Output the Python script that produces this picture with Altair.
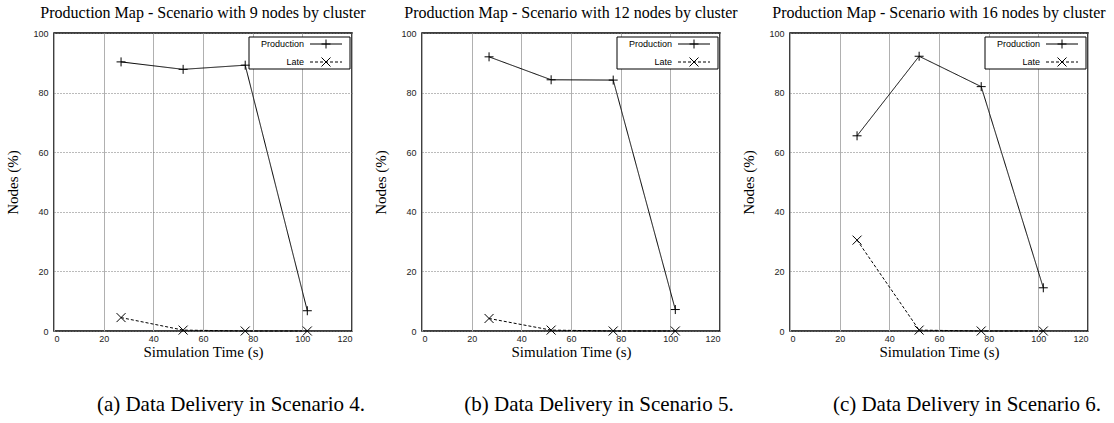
import altair as alt
import pandas as pd

# ---------------- data ----------------
times = [27, 52, 77, 102]
series_names = ["Production", "Late"]
titles = [
    "Production Map - Scenario with 9 nodes by cluster",
    "Production Map - Scenario with 12 nodes by cluster",
    "Production Map - Scenario with 16 nodes by cluster",
]
captions = [
    "(a) Data Delivery in Scenario 4.",
    "(b) Data Delivery in Scenario 5.",
    "(c) Data Delivery in Scenario 6.",
]
production = [
    [90.3, 87.8, 89.2, 6.8],
    [92.0, 84.3, 84.2, 7.2],
    [65.5, 92.2, 82.0, 14.5],
]
late = [
    [4.5, 0.3, 0.0, 0.0],
    [4.2, 0.3, 0.0, 0.0],
    [30.5, 0.3, 0.0, 0.0],
]
x_ticks = [0, 20, 40, 60, 80, 100, 120]
y_ticks = [0, 20, 40, 60, 80, 100]

# ---------------- styles ----------------
PLUS = "M-1,0L1,0M0,-1L0,1"
CROSS = "M-1,-1L1,1M-1,1L1,-1"
W = H = 298
SERIF = "Liberation Serif"
SANS = "Liberation Sans"
dash_range = [[1, 0], [3, 2]]
shape_range = [PLUS, CROSS]


def panel(i):
    rows = []
    for t, v in zip(times, production[i]):
        rows.append({"time": t, "value": v, "series": "Production"})
    for t, v in zip(times, late[i]):
        rows.append({"time": t, "value": v, "series": "Late"})
    df = pd.DataFrame(rows)

    x = alt.X("time:Q", scale=alt.Scale(domain=[0, 120], nice=False),
              axis=alt.Axis(values=x_ticks, title="Simulation Time (s)"))
    y = alt.Y("value:Q", scale=alt.Scale(domain=[0, 100], nice=False),
              axis=alt.Axis(values=y_ticks, title="Nodes (%)"))

    base = alt.Chart(df)
    dash = alt.StrokeDash("series:N", scale=alt.Scale(domain=series_names, range=dash_range), legend=None)
    shape = alt.Shape("series:N", scale=alt.Scale(domain=series_names, range=shape_range), legend=None)

    one = alt.Chart(pd.DataFrame({"k": [0]}))
    box = one.mark_rect(fill="white", stroke="black", strokeWidth=1).encode(
        x=alt.value(195), x2=alt.value(296), y=alt.value(4), y2=alt.value(36))

    lines = base.mark_line(color="black", strokeWidth=1).encode(
        x=x, y=y, strokeDash=dash, detail="series:N")
    points = base.mark_point(color="black", strokeWidth=1, filled=False, opacity=1).encode(
        x=x, y=y, shape=shape, size=alt.value(81))

    legend_layers = []
    for name, ly, dsh, shp in zip(series_names, [11, 29], dash_range, shape_range):
        ldf = pd.DataFrame({"label": [name]})
        lc = alt.Chart(ldf)
        legend_layers.append(lc.mark_text(align="right", baseline="middle", font=SANS, fontSize=9,
                                          color="black").encode(
            text="label:N", x=alt.value(250), y=alt.value(ly)))
        legend_layers.append(lc.mark_rule(color="black", strokeWidth=1, strokeDash=dsh).encode(
            x=alt.value(256), x2=alt.value(288), y=alt.value(ly)))
        legend_layers.append(lc.mark_point(color="black", strokeWidth=1, filled=False, opacity=1,
                                           shape=shp).encode(
            x=alt.value(272), y=alt.value(ly), size=alt.value(81)))

    cap = alt.Chart(pd.DataFrame({"caption": [captions[i]]})).mark_text(
        align="center", baseline="middle", font=SERIF, fontSize=21, color="black").encode(
        text="caption:N", x=alt.value(177), y=alt.value(372))

    return alt.layer(box, lines, points, *legend_layers, cap).properties(
        width=W, height=H,
        title=alt.TitleParams(titles[i], font=SERIF, fontSize=16, fontWeight="normal",
                              anchor="middle", offset=8, color="black"))


chart = alt.hconcat(*[panel(i) for i in range(3)], spacing=70, bounds="flush").properties(
    padding={"left": 5, "top": 4, "right": 0, "bottom": 0},
    background="white",
).configure_view(
    stroke="black", strokeWidth=1.5
).configure_axis(
    labelFont=SANS, labelFontSize=9, labelColor="#222",
    titleFont=SERIF, titleFontSize=15, titleFontWeight="normal", titleColor="black",
    domain=False, ticks=False, labelPadding=6,
).configure_axisX(
    gridColor="#b0b0b0", gridWidth=1, titlePadding=1, labelPadding=3,
).configure_axisY(
    gridColor="#777777", gridWidth=1, gridDash=[1, 2], titlePadding=12,
)

chart.save("out.html", embed_options={"renderer": "svg", "actions": False})
